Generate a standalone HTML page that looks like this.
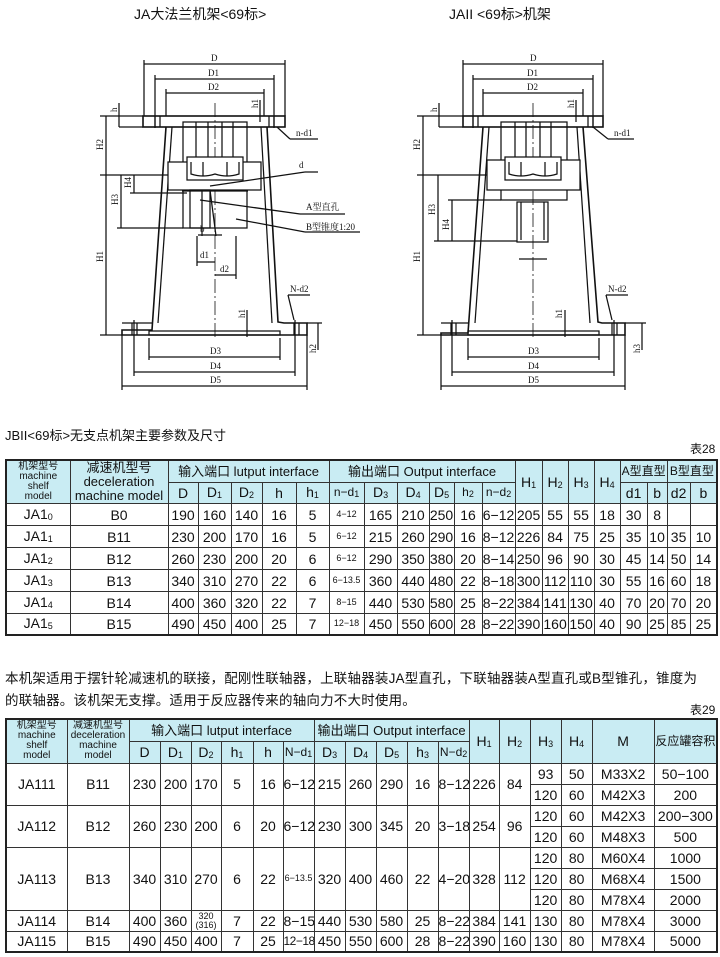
<!DOCTYPE html>
<html><head><meta charset="utf-8">
<style>
*{margin:0;padding:0;box-sizing:border-box}
body{width:720px;height:957px;background:#fff;position:relative;overflow:hidden;font-family:"Liberation Sans","Noto Sans CJK SC",sans-serif;color:#111}
.t{position:absolute;font-size:13px;white-space:nowrap}
table{position:absolute;border-collapse:collapse;table-layout:fixed;border:2px solid #222}
td{border:1px solid #333;text-align:center;vertical-align:middle;font-size:14px;padding:0;overflow:hidden;white-space:nowrap;line-height:1}
tr.h td{background:#c9ecf3}
.s{font-size:10px;line-height:10px;white-space:normal}
.sm{font-size:9px}
sub{font-size:9px;vertical-align:-1px}
svg{position:absolute;left:0;top:0}
svg text{font-family:"Liberation Serif","Noto Serif CJK SC",serif;font-size:9px;fill:#111}
</style></head><body>
<div class="t" style="left:134px;top:4px;font-size:14px">JA大法兰机架&lt;69标&gt;</div>
<div class="t" style="left:449px;top:4px;font-size:14px">JAII &lt;69标&gt;机架</div>

<svg width="720" height="420" viewBox="0 0 720 420" stroke="#111" fill="none" stroke-width="1.25">
<g>
<line x1="144" y1="64" x2="285" y2="64"/><text x="211" y="61" stroke="none">D</text>
<line x1="155" y1="79" x2="274" y2="79"/><text x="208" y="76" stroke="none">D1</text>
<line x1="166" y1="93" x2="264" y2="93"/><text x="208" y="90" stroke="none">D2</text>
<line x1="144" y1="60" x2="144" y2="116"/><line x1="285" y1="60" x2="285" y2="116"/>
<line x1="155" y1="75" x2="155" y2="128"/><line x1="274" y1="75" x2="274" y2="128"/>
<line x1="166" y1="89" x2="166" y2="116"/><line x1="264" y1="89" x2="264" y2="116"/>
<rect x="143" y="116" width="142" height="11" stroke-width="1.6"/>
<line x1="155" y1="116" x2="155" y2="127"/><line x1="160" y1="116" x2="160" y2="127"/>
<line x1="269" y1="116" x2="269" y2="127"/><line x1="274" y1="116" x2="274" y2="127"/>
<polyline points="166,127 152,330 122,330 122,335 307,335 307,323 284,323 278,322 267,127" stroke-width="1.6"/>
<line x1="172" y1="127" x2="158" y2="323"/><line x1="261" y1="127" x2="272" y2="323"/>
<line x1="122" y1="323" x2="152" y2="323"/>
<line x1="132" y1="323" x2="132" y2="335"/><line x1="137" y1="323" x2="137" y2="335"/>
<line x1="294" y1="323" x2="294" y2="335"/><line x1="299" y1="323" x2="299" y2="335"/>
<rect x="149" y="331" width="131" height="4"/>
<line x1="215" y1="103" x2="215" y2="340" stroke-dasharray="14,3,2,3" stroke-width="0.8"/>
<rect x="183" y="122" width="64" height="106"/>
<line x1="196" y1="122" x2="196" y2="157"/><line x1="208" y1="122" x2="208" y2="157"/><line x1="222" y1="122" x2="222" y2="157"/><line x1="233" y1="122" x2="233" y2="157"/>
<rect x="168" y="162" width="93" height="28" fill="#fff"/>
<rect x="187" y="157" width="56" height="23" fill="#fff"/>
<path d="M191,162 v12 q12,4 24,0 q12,4 24,0 v-12 M203,162 v14 M227,162 v14"/>
<rect x="190" y="190" width="20" height="38"/><line x1="202" y1="190" x2="202" y2="236"/>
<line x1="210" y1="190" x2="216" y2="236"/>
<line x1="182" y1="191" x2="248" y2="191"/>
<line x1="106" y1="116" x2="106" y2="335"/><line x1="100" y1="116" x2="143" y2="116"/>
<line x1="100" y1="175" x2="168" y2="175"/><line x1="100" y1="335" x2="122" y2="335"/>
<line x1="121" y1="175" x2="121" y2="228"/><line x1="117" y1="228" x2="183" y2="228"/>
<line x1="134" y1="175" x2="134" y2="193"/><line x1="130" y1="193" x2="187" y2="193"/>
<line x1="119" y1="103" x2="119" y2="127"/><line x1="119" y1="127" x2="143" y2="127"/>
<text x="103" y="150" transform="rotate(-90 103 150)" stroke="none">H2</text>
<text x="103" y="262" transform="rotate(-90 103 262)" stroke="none">H1</text>
<text x="118" y="205" transform="rotate(-90 118 205)" stroke="none">H3</text>
<text x="131" y="188" transform="rotate(-90 131 188)" stroke="none">H4</text>
<text x="117" y="112" transform="rotate(-90 117 112)" stroke="none">h</text>
<text x="258" y="108" transform="rotate(-90 258 108)" stroke="none">h1</text>
<line x1="260" y1="100" x2="260" y2="122"/>
<text x="245" y="318" transform="rotate(-90 245 318)" stroke="none">h1</text>
<line x1="247" y1="310" x2="247" y2="337"/>
<text x="316" y="353" transform="rotate(-90 316 353)" stroke="none">h2</text>
<line x1="318" y1="323" x2="318" y2="350"/><line x1="307" y1="323" x2="322" y2="323"/>
<line x1="149" y1="338" x2="149" y2="360"/><line x1="280" y1="338" x2="280" y2="360"/>
<line x1="149" y1="357" x2="280" y2="357"/><text x="210" y="354" stroke="none">D3</text>
<line x1="134" y1="372" x2="295" y2="372"/><text x="210" y="369" stroke="none">D4</text>
<line x1="134" y1="320" x2="134" y2="376"/><line x1="295" y1="320" x2="295" y2="376"/>
<line x1="122" y1="386" x2="307" y2="386"/><text x="210" y="383" stroke="none">D5</text>
<line x1="122" y1="335" x2="122" y2="390"/><line x1="307" y1="335" x2="307" y2="390"/>
<line x1="198" y1="235" x2="222" y2="235"/><text x="200" y="232" stroke="none">b</text>
<line x1="197" y1="262" x2="215" y2="262"/><text x="200" y="258" stroke="none">d1</text>
<line x1="215" y1="275" x2="236" y2="275"/><text x="220" y="272" stroke="none">d2</text>
<line x1="197" y1="236" x2="197" y2="266"/><line x1="236" y1="236" x2="236" y2="279"/>
<line x1="210" y1="186" x2="305" y2="172"/><line x1="305" y1="172" x2="318" y2="172"/><text x="299" y="168" stroke="none">d</text>
<line x1="200" y1="200" x2="300" y2="214"/><line x1="300" y1="214" x2="345" y2="214"/><text x="306" y="210" stroke="none">A型直孔</text>
<line x1="236" y1="219" x2="305" y2="232"/><line x1="305" y1="232" x2="360" y2="232"/><text x="306" y="230" stroke="none">B型锥度1:20</text>
<line x1="277" y1="127" x2="290" y2="139"/><line x1="290" y1="139" x2="318" y2="139"/><text x="296" y="136" stroke="none">n-d1</text>
<line x1="294" y1="320" x2="288" y2="295"/><line x1="288" y1="295" x2="310" y2="295"/><text x="290" y="292" stroke="none">N-d2</text>
</g>
<g>
<line x1="463" y1="64" x2="603" y2="64"/><text x="530" y="61" stroke="none">D</text>
<line x1="473" y1="79" x2="593" y2="79"/><text x="527" y="76" stroke="none">D1</text>
<line x1="483" y1="93" x2="583" y2="93"/><text x="527" y="90" stroke="none">D2</text>
<line x1="463" y1="60" x2="463" y2="116"/><line x1="603" y1="60" x2="603" y2="116"/>
<line x1="473" y1="75" x2="473" y2="128"/><line x1="593" y1="75" x2="593" y2="128"/>
<line x1="483" y1="89" x2="483" y2="116"/><line x1="583" y1="89" x2="583" y2="116"/>
<rect x="463" y="116" width="140" height="11" stroke-width="1.6"/>
<line x1="473" y1="116" x2="473" y2="127"/><line x1="478" y1="116" x2="478" y2="127"/>
<line x1="588" y1="116" x2="588" y2="127"/><line x1="593" y1="116" x2="593" y2="127"/>
<polyline points="483,127 468,333 441,333 441,335 625,335 625,323 602,323 598,322 583,127" stroke-width="1.6"/>
<line x1="489" y1="127" x2="475" y2="323"/><line x1="577" y1="127" x2="590" y2="323"/>
<line x1="441" y1="323" x2="468" y2="323"/>
<line x1="451" y1="323" x2="451" y2="335"/><line x1="456" y1="323" x2="456" y2="335"/>
<line x1="612" y1="323" x2="612" y2="335"/><line x1="617" y1="323" x2="617" y2="335"/>
<rect x="468" y="331" width="131" height="4"/>
<line x1="533" y1="103" x2="533" y2="340" stroke-dasharray="14,3,2,3" stroke-width="0.8"/>
<rect x="501" y="122" width="66" height="78"/>
<line x1="515" y1="122" x2="515" y2="157"/><line x1="526" y1="122" x2="526" y2="157"/><line x1="540" y1="122" x2="540" y2="157"/><line x1="551" y1="122" x2="551" y2="157"/>
<rect x="487" y="160" width="93" height="30" fill="#fff"/>
<rect x="505" y="157" width="56" height="23" fill="#fff"/>
<path d="M509,162 v12 q12,4 24,0 q12,4 24,0 v-12 M521,162 v14 M545,162 v14"/>
<rect x="517" y="202" width="31" height="40"/><line x1="521" y1="202" x2="521" y2="240"/><line x1="544" y1="202" x2="544" y2="240"/>
<line x1="519" y1="259" x2="547" y2="259"/>
<line x1="423" y1="116" x2="423" y2="335"/><line x1="417" y1="116" x2="463" y2="116"/>
<line x1="417" y1="175" x2="487" y2="175"/><line x1="417" y1="335" x2="441" y2="335"/>
<line x1="438" y1="175" x2="438" y2="241"/><line x1="434" y1="241" x2="517" y2="241"/>
<line x1="452" y1="200" x2="452" y2="241"/><line x1="448" y1="200" x2="501" y2="200"/>
<line x1="439" y1="103" x2="439" y2="127"/><line x1="439" y1="127" x2="463" y2="127"/>
<text x="420" y="150" transform="rotate(-90 420 150)" stroke="none">H2</text>
<text x="420" y="262" transform="rotate(-90 420 262)" stroke="none">H1</text>
<text x="435" y="215" transform="rotate(-90 435 215)" stroke="none">H3</text>
<text x="449" y="230" transform="rotate(-90 449 230)" stroke="none">H4</text>
<text x="437" y="112" transform="rotate(-90 437 112)" stroke="none">h</text>
<text x="574" y="108" transform="rotate(-90 574 108)" stroke="none">h1</text>
<line x1="576" y1="100" x2="576" y2="122"/>
<text x="562" y="318" transform="rotate(-90 562 318)" stroke="none">h1</text>
<line x1="565" y1="310" x2="565" y2="337"/>
<text x="640" y="353" transform="rotate(-90 640 353)" stroke="none">h3</text>
<line x1="642" y1="323" x2="642" y2="350"/><line x1="625" y1="323" x2="646" y2="323"/>
<line x1="468" y1="338" x2="468" y2="360"/><line x1="599" y1="338" x2="599" y2="360"/>
<line x1="468" y1="357" x2="599" y2="357"/><text x="528" y="354" stroke="none">D3</text>
<line x1="452" y1="372" x2="614" y2="372"/><text x="528" y="369" stroke="none">D4</text>
<line x1="452" y1="320" x2="452" y2="376"/><line x1="614" y1="320" x2="614" y2="376"/>
<line x1="441" y1="386" x2="625" y2="386"/><text x="528" y="383" stroke="none">D5</text>
<line x1="441" y1="335" x2="441" y2="390"/><line x1="625" y1="335" x2="625" y2="390"/>
<line x1="593" y1="127" x2="608" y2="139"/><line x1="608" y1="139" x2="634" y2="139"/><text x="614" y="136" stroke="none">n-d1</text>
<line x1="612" y1="320" x2="606" y2="295"/><line x1="606" y1="295" x2="628" y2="295"/><text x="608" y="292" stroke="none">N-d2</text>
</g>
</svg>

<div class="t" style="left:5px;top:425px;font-size:13px">JBII&lt;69标&gt;无支点机架主要参数及尺寸</div>
<div class="t" style="left:690px;top:440px;font-size:12px">表28</div>

<table style="left:5px;top:459px;width:711px">
<colgroup><col style="width:64px"><col style="width:98px"><col style="width:30px"><col style="width:33px"><col style="width:31px"><col style="width:34px"><col style="width:33px"><col style="width:35px"><col style="width:33px"><col style="width:32px"><col style="width:25px"><col style="width:28px"><col style="width:33px"><col style="width:27px"><col style="width:26px"><col style="width:26px"><col style="width:26px"><col style="width:27px"><col style="width:20px"><col style="width:23px"><col style="width:27px"></colgroup>
<tr class="h" style="height:22px"><td rowspan="2" class="s">机架型号<br>machine<br>shelf<br>model</td><td rowspan="2" style="font-size:13px;line-height:14px">减速机型号<br>deceleration<br>machine model</td><td colspan="5" style="font-size:13px">输入端口 lutput interface</td><td colspan="6" style="font-size:13px">输出端口 Output interface</td><td rowspan="2">H<sub>1</sub></td><td rowspan="2">H<sub>2</sub></td><td rowspan="2">H<sub>3</sub></td><td rowspan="2">H<sub>4</sub></td><td colspan="2" style="font-size:12px">A型直型</td><td colspan="2" style="font-size:12px">B型直型</td></tr>
<tr class="h" style="height:21px"><td>D</td><td>D<sub>1</sub></td><td>D<sub>2</sub></td><td>h</td><td>h<sub>1</sub></td><td style="font-size:12px">n−d<sub>1</sub></td><td>D<sub>3</sub></td><td>D<sub>4</sub></td><td>D<sub>5</sub></td><td style="font-size:12px">h<sub>2</sub></td><td style="font-size:12px">n−d<sub>2</sub></td><td>d1</td><td>b</td><td>d2</td><td>b</td></tr>
<tr style="height:22px"><td>JA1<sub>0</sub></td><td>B0</td><td>190</td><td>160</td><td>140</td><td>16</td><td>5</td><td class="sm">4−12</td><td>165</td><td>210</td><td>250</td><td>16</td><td>6−12</td><td>205</td><td>55</td><td>55</td><td>18</td><td>30</td><td>8</td><td></td><td></td></tr>
<tr style="height:22px"><td>JA1<sub>1</sub></td><td>B11</td><td>230</td><td>200</td><td>170</td><td>16</td><td>5</td><td class="sm">6−12</td><td>215</td><td>260</td><td>290</td><td>16</td><td>8−12</td><td>226</td><td>84</td><td>75</td><td>25</td><td>35</td><td>10</td><td>35</td><td>10</td></tr>
<tr style="height:22px"><td>JA1<sub>2</sub></td><td>B12</td><td>260</td><td>230</td><td>200</td><td>20</td><td>6</td><td class="sm">6−12</td><td>290</td><td>350</td><td>380</td><td>20</td><td>8−14</td><td>250</td><td>96</td><td>90</td><td>30</td><td>45</td><td>14</td><td>50</td><td>14</td></tr>
<tr style="height:22px"><td>JA1<sub>3</sub></td><td>B13</td><td>340</td><td>310</td><td>270</td><td>22</td><td>6</td><td class="sm">6−13.5</td><td>360</td><td>440</td><td>480</td><td>22</td><td>8−18</td><td>300</td><td>112</td><td>110</td><td>30</td><td>55</td><td>16</td><td>60</td><td>18</td></tr>
<tr style="height:22px"><td>JA1<sub>4</sub></td><td>B14</td><td>400</td><td>360</td><td>320</td><td>22</td><td>7</td><td class="sm">8−15</td><td>440</td><td>530</td><td>580</td><td>25</td><td>8−22</td><td>384</td><td>141</td><td>130</td><td>40</td><td>70</td><td>20</td><td>70</td><td>20</td></tr>
<tr style="height:21px"><td>JA1<sub>5</sub></td><td>B15</td><td>490</td><td>450</td><td>400</td><td>25</td><td>7</td><td class="sm">12−18</td><td>450</td><td>550</td><td>600</td><td>28</td><td>8−22</td><td>390</td><td>160</td><td>150</td><td>40</td><td>90</td><td>25</td><td>85</td><td>25</td></tr>
</table>

<div class="t" style="left:5px;top:667px;font-size:13.5px;letter-spacing:0.2px">本机架适用于摆针轮减速机的联接，配刚性联轴器，上联轴器装JA型直孔，下联轴器装A型直孔或B型锥孔，锥度为</div>
<div class="t" style="left:5px;top:689px;font-size:13.5px;letter-spacing:0.2px">的联轴器。该机架无支撑。适用于反应器传来的轴向力不大时使用。</div>
<div class="t" style="left:690px;top:701px;font-size:12px">表29</div>

<table style="left:5px;top:718px;width:711px">
<colgroup><col style="width:61px"><col style="width:62px"><col style="width:31px"><col style="width:31px"><col style="width:30px"><col style="width:32px"><col style="width:30px"><col style="width:31px"><col style="width:31px"><col style="width:31px"><col style="width:31px"><col style="width:31px"><col style="width:31px"><col style="width:30px"><col style="width:31px"><col style="width:31px"><col style="width:31px"><col style="width:62px"><col style="width:63px"></colgroup>
<tr class="h" style="height:22px"><td rowspan="2" class="s">机架型号<br>machine<br>shelf<br>model</td><td rowspan="2" class="s">减速机型号<br>deceleration<br>machine<br>model</td><td colspan="6" style="font-size:13px">输入端口 lutput interface</td><td colspan="5" style="font-size:13px">输出端口 Output interface</td><td rowspan="2">H<sub>1</sub></td><td rowspan="2">H<sub>2</sub></td><td rowspan="2">H<sub>3</sub></td><td rowspan="2">H<sub>4</sub></td><td rowspan="2">M</td><td rowspan="2" style="font-size:12px">反应罐容积</td></tr>
<tr class="h" style="height:22px"><td>D</td><td>D<sub>1</sub></td><td>D<sub>2</sub></td><td>h<sub>1</sub></td><td>h</td><td style="font-size:12px">N−d<sub>1</sub></td><td>D<sub>3</sub></td><td>D<sub>4</sub></td><td>D<sub>5</sub></td><td>h<sub>3</sub></td><td style="font-size:12px">N−d<sub>2</sub></td></tr>
<tr style="height:21px"><td rowspan="2">JA111</td><td rowspan="2">B11</td><td rowspan="2">230</td><td rowspan="2">200</td><td rowspan="2">170</td><td rowspan="2">5</td><td rowspan="2">16</td><td rowspan="2">6−12</td><td rowspan="2">215</td><td rowspan="2">260</td><td rowspan="2">290</td><td rowspan="2">16</td><td rowspan="2">8−12</td><td rowspan="2">226</td><td rowspan="2">84</td><td>93</td><td>50</td><td>M33X2</td><td>50−100</td></tr>
<tr style="height:21px"><td>120</td><td>60</td><td>M42X3</td><td>200</td></tr>
<tr style="height:21px"><td rowspan="2">JA112</td><td rowspan="2">B12</td><td rowspan="2">260</td><td rowspan="2">230</td><td rowspan="2">200</td><td rowspan="2">6</td><td rowspan="2">20</td><td rowspan="2">6−12</td><td rowspan="2">230</td><td rowspan="2">300</td><td rowspan="2">345</td><td rowspan="2">20</td><td rowspan="2">3−18</td><td rowspan="2">254</td><td rowspan="2">96</td><td>120</td><td>60</td><td>M42X3</td><td>200−300</td></tr>
<tr style="height:21px"><td>120</td><td>60</td><td>M48X3</td><td>500</td></tr>
<tr style="height:21px"><td rowspan="3">JA113</td><td rowspan="3">B13</td><td rowspan="3">340</td><td rowspan="3">310</td><td rowspan="3">270</td><td rowspan="3">6</td><td rowspan="3">22</td><td rowspan="3" class="sm">6−13.5</td><td rowspan="3">320</td><td rowspan="3">400</td><td rowspan="3">460</td><td rowspan="3">22</td><td rowspan="3">4−20</td><td rowspan="3">328</td><td rowspan="3">112</td><td>120</td><td>80</td><td>M60X4</td><td>1000</td></tr>
<tr style="height:21px"><td>120</td><td>80</td><td>M68X4</td><td>1500</td></tr>
<tr style="height:21px"><td>120</td><td>80</td><td>M78X4</td><td>2000</td></tr>
<tr style="height:21px"><td>JA114</td><td>B14</td><td>400</td><td>360</td><td style="font-size:9px;line-height:9px">320<br>(316)</td><td>7</td><td>22</td><td>8−15</td><td>440</td><td>530</td><td>580</td><td>25</td><td>8−22</td><td>384</td><td>141</td><td>130</td><td>80</td><td>M78X4</td><td>3000</td></tr>
<tr style="height:21px"><td>JA115</td><td>B15</td><td>490</td><td>450</td><td>400</td><td>7</td><td>25</td><td style="font-size:12px;letter-spacing:-0.5px">12−18</td><td>450</td><td>550</td><td>600</td><td>28</td><td>8−22</td><td>390</td><td>160</td><td>130</td><td>80</td><td>M78X4</td><td>5000</td></tr>
</table>
</body></html>
